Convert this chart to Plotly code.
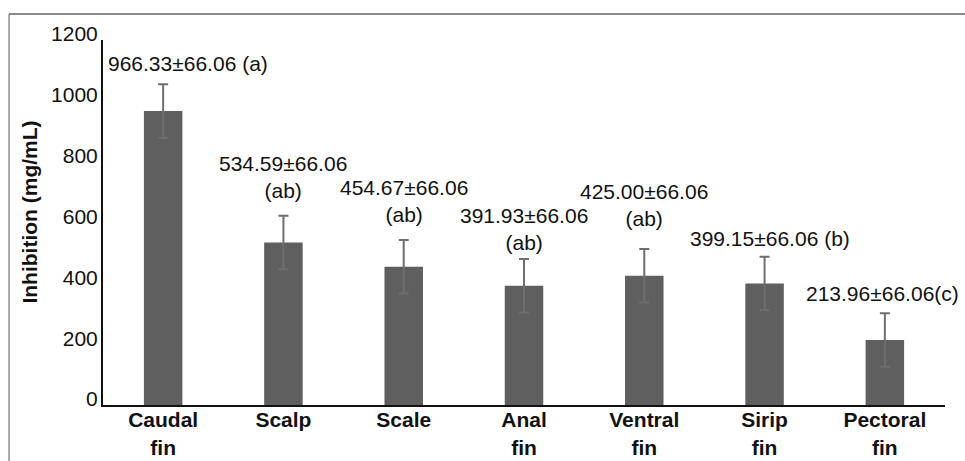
import plotly.graph_objects as go

categories = ["Caudal<br>fin", "Scalp", "Scale", "Anal<br>fin", "Ventral<br>fin", "Sirip<br>fin", "Pectoral<br>fin"]
values = [966.33, 534.59, 454.67, 391.93, 425.00, 399.15, 213.96]
errors = [88, 88, 88, 88, 88, 88, 88]
labels = ["966.33±66.06 (a)", "534.59±66.06<br>(ab)", "454.67±66.06<br>(ab)", "391.93±66.06<br>(ab)",
          "425.00±66.06<br>(ab)", "399.15±66.06 (b)", "213.96±66.06(c)"]
y_ticks = [0, 200, 400, 600, 800, 1000, 1200]
y_title = "<b>Inhibition (mg/mL)</b>"

# layout-only positions of the value labels (data units) and horizontal pixel shifts
label_y = [1124, 749, 672, 580, 659, 549, 368]
label_xshift = [25, 0, 0, 0, 0, 5, -2]

FONT = "Arial, Liberation Sans, sans-serif"

fig = go.Figure()
fig.add_trace(go.Bar(
    x=categories, y=values,
    marker=dict(color="#5e5f5e", line=dict(width=0)),
    error_y=dict(type="data", array=errors, visible=True, color="#6e6e6e", thickness=2, width=5),
    width=0.32,
))

for cat, lab, ly, xs in zip(categories, labels, label_y, label_xshift):
    fig.add_annotation(x=cat, y=ly, text=lab, showarrow=False, xshift=xs,
                       font=dict(family=FONT, size=21, color="#111111"), align="center")

# y-axis title as rotated annotation
fig.add_annotation(xref="paper", yref="paper", x=-0.0867, y=0.530, text=y_title, textangle=-90,
                   xanchor="center", yanchor="middle",
                   showarrow=False, font=dict(family=FONT, size=21, color="#111111"))

# outer frame (top and left edges)
fig.add_shape(type="line", xref="paper", yref="paper", x0=-0.1116, x1=1.03, y0=1.071, y1=1.071,
              line=dict(color="#8a8a8a", width=2))
fig.add_shape(type="line", xref="paper", yref="paper", x0=-0.1116, x1=-0.1116, y0=1.071, y1=-0.2,
              line=dict(color="#555555", width=1))

fig.update_layout(
    width=965, height=461,
    margin=dict(l=103, r=20, t=40, b=56, autoexpand=False),
    paper_bgcolor="white", plot_bgcolor="white",
    showlegend=False,
    font=dict(family=FONT, size=21, color="#111111"),
    xaxis=dict(showline=True, linecolor="#111111", linewidth=2, ticks="", showgrid=False,
               automargin=False, ticklabelstandoff=-5,
               tickfont=dict(family=FONT, size=21, color="#111111", weight="bold"),
               range=[-0.5, 6.5]),
    yaxis=dict(showline=True, linecolor="#111111", linewidth=2, ticks="", showgrid=False,
               automargin=False,
               range=[0, 1200], tickvals=y_ticks, ticktext=[str(v) for v in y_ticks],
               tickfont=dict(family=FONT, size=21, color="#111111"),
               ticklabelstandoff=-1, ticklabelshift=-6, zeroline=False),
)

fig.write_html("out.html", config={"displayModeBar": False},
               post_script="document.body.style.margin='0';document.body.style.overflow='hidden';")
